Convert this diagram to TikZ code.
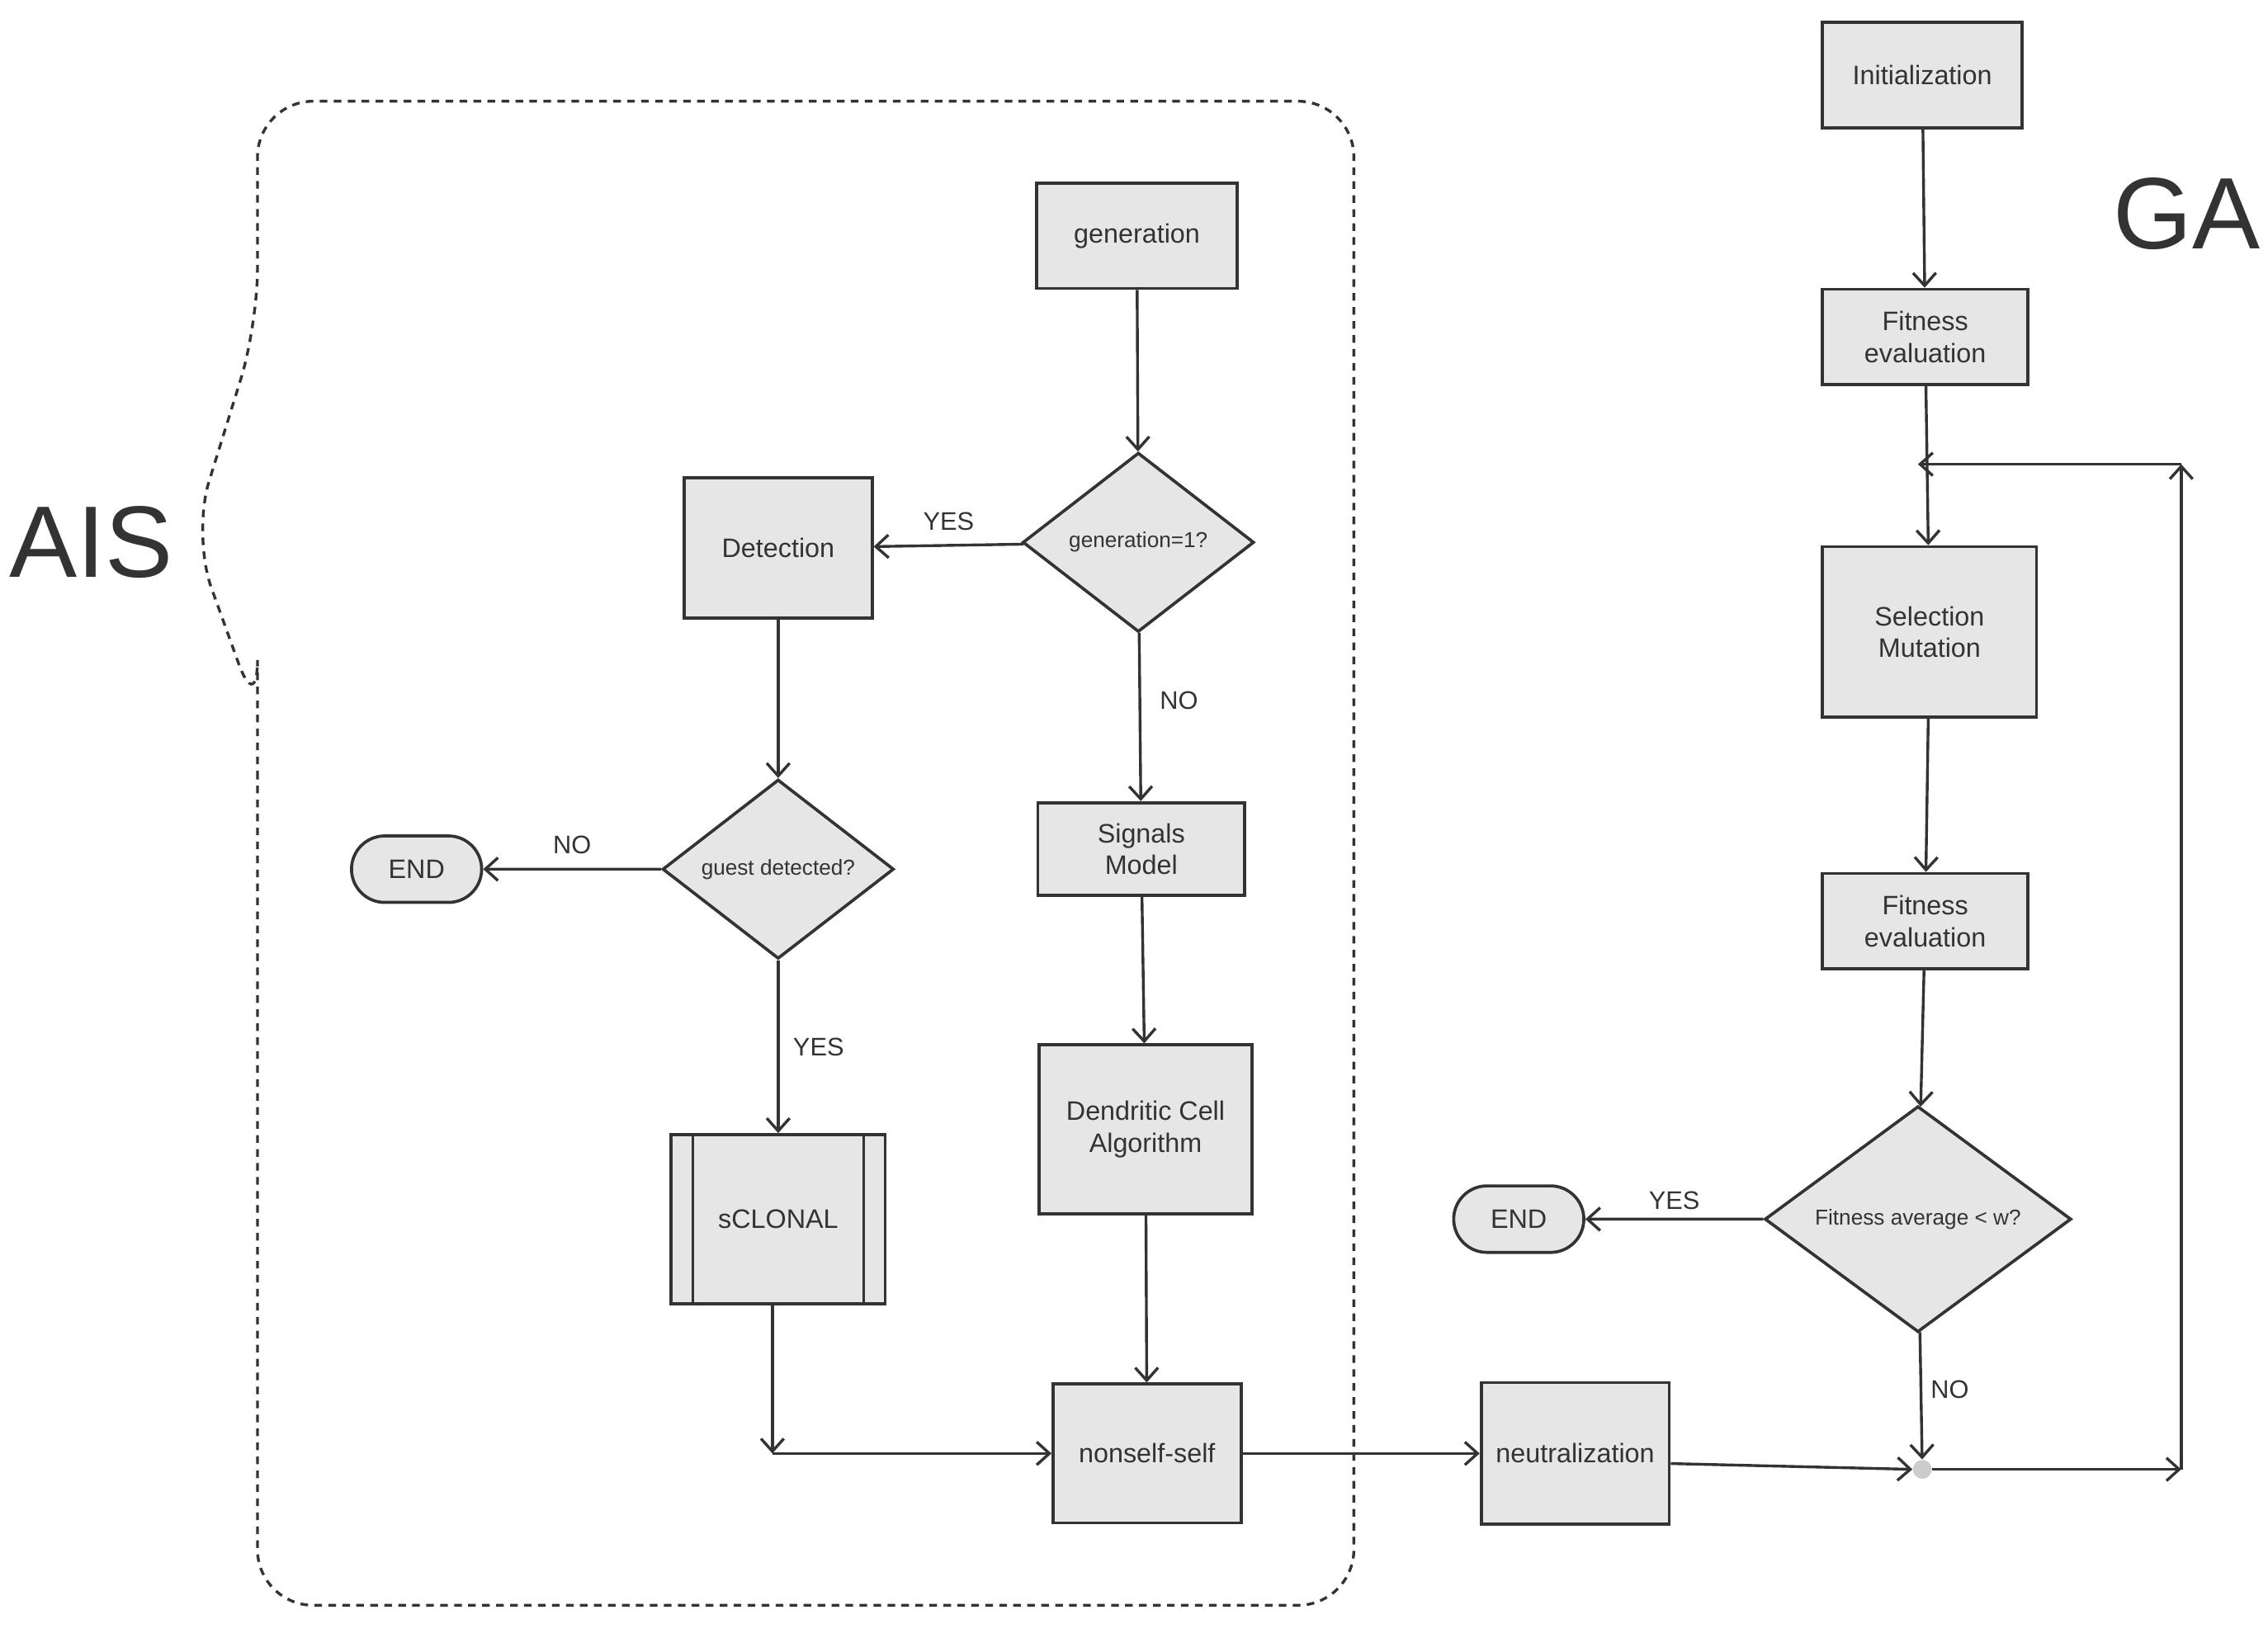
\documentclass[tikz,border=0pt]{standalone}
\usepackage{fontspec}
\setmainfont{Liberation Sans}
\usetikzlibrary{arrows.meta,shapes.geometric,shapes.misc}
\definecolor{boxfill}{HTML}{E6E6E6}
\definecolor{ln}{HTML}{333333}
\begin{document}
\begin{tikzpicture}[x=0.02cm,y=-0.02cm,
  every node/.style={font=\fontsize{10.5}{12.5}\selectfont,text=ln},
  box/.style={draw=ln,line width=1.2pt,fill=boxfill,align=center,inner sep=0pt},
  dia/.style={draw=ln,line width=1.2pt,fill=boxfill,diamond,inner sep=0pt,font=\fontsize{8.5}{10}\selectfont},
  term/.style={draw=ln,line width=1.2pt,fill=boxfill,rounded rectangle,minimum width=1.8cm,minimum height=0.92cm,inner sep=0pt},
  lab/.style={font=\fontsize{10}{12}\selectfont},
  arr/.style={draw=ln,line width=1.1pt,-{Straight Barb[length=5pt,width=9pt]}},
  ln/.style={draw=ln,line width=1.1pt}]
\useasboundingbox (0,0) rectangle (1568,1132.6);
% AIS region
\draw[ln,dashed,line width=1.1pt,dash pattern=on 3pt off 2.5pt,rounded corners=22]
  (178,495) -- (178,1110) -- (936,1110) -- (936,70) -- (178,70) -- (178,225) -- (133,370) -- (178,495) -- cycle;
\node[font=\fontsize{40}{44}\selectfont] (ais) at (63,375) {AIS};
\node[font=\fontsize{40}{44}\selectfont] (ga) at (1512,148) {GA};
% GA column
\node[box,minimum width=2.76cm,minimum height=1.46cm] (init) at (1329,52) {Initialization};
\node[box,minimum width=2.84cm,minimum height=1.32cm] (fit1) at (1331,233) {Fitness\\evaluation};
\node[box,minimum width=2.96cm,minimum height=2.36cm] (sel) at (1334,437) {Selection\\Mutation};
\node[box,minimum width=2.84cm,minimum height=1.32cm] (fit2) at (1331,637) {Fitness\\evaluation};
\node[dia,minimum width=4.24cm,minimum height=2.32cm] (avg) at (1326,843) {Fitness average < w?};
\node[term] (end2) at (1050,843) {END};
\node[circle,fill=gray!40,inner sep=0pt,minimum size=0.26cm] (dot) at (1329,1016) {};
\coordinate (lp1) at (1326,321);
\coordinate (lp2) at (1508,321);
\coordinate (lp3) at (1508,1016);
\node[box,minimum width=2.6cm,minimum height=1.96cm] (neut) at (1089,1005) {neutralization};
% AIS column
\node[box,minimum width=2.78cm,minimum height=1.46cm] (gen) at (786,163) {generation};
\node[dia,minimum width=3.2cm,minimum height=2.48cm] (g1) at (787,375) {generation=1?};
\node[box,minimum width=2.6cm,minimum height=1.94cm] (det) at (538,379) {Detection};
\node[box,minimum width=2.86cm,minimum height=1.28cm] (sig) at (789,587) {Signals\\Model};
\node[box,minimum width=2.94cm,minimum height=2.34cm] (dca) at (792,781) {Dendritic Cell\\Algorithm};
\node[dia,minimum width=3.2cm,minimum height=2.48cm] (gd) at (538,601) {guest detected?};
\node[term] (end1) at (288,601) {END};
\node[box,minimum width=2.96cm,minimum height=2.34cm] (scl) at (538,843) {sCLONAL};
\draw[ln,line width=1.2pt] ([xshift=0.32cm]scl.north west) -- ([xshift=0.32cm]scl.south west)
  ([xshift=-0.32cm]scl.north east) -- ([xshift=-0.32cm]scl.south east);
\node[box,minimum width=2.6cm,minimum height=1.92cm] (ns) at (793,1005) {nonself-self};
\coordinate (sc) at (534,1005);
% edges
\draw[arr] (init) -- (fit1);
\draw[arr] (fit1) -- (sel);
\draw[arr] (sel) -- (fit2);
\draw[arr] (fit2) -- (avg);
\draw[arr] (avg) -- node[lab,above]{YES} (end2);
\draw[arr] (avg) -- node[lab,right,pos=0.45]{NO} (dot);
\draw[arr] (dot.east) -- (lp3);
\draw[arr] (lp3) -- (lp2);
\draw[arr] (lp2) -- (lp1);
\draw[arr] (neut.east |- 0,1012) -- (dot.west);
\draw[arr] (ns) -- (neut);
\draw[arr] (gen) -- (g1);
\draw[arr] (g1) -- node[lab,above,yshift=2pt]{YES} (det);
\draw[arr] (g1) -- node[lab,right,pos=0.4,xshift=4pt]{NO} (sig);
\draw[arr] (sig) -- (dca);
\draw[arr] (dca) -- (ns);
\draw[arr] (det) -- (gd);
\draw[arr] (gd) -- node[lab,above,yshift=2pt]{NO} (end1);
\draw[arr] (gd) -- node[lab,right,xshift=2pt]{YES} (scl);
\draw[arr] (scl.south -| sc) -- (sc);
\draw[arr] (sc) -- (ns);
\end{tikzpicture}
\end{document}
